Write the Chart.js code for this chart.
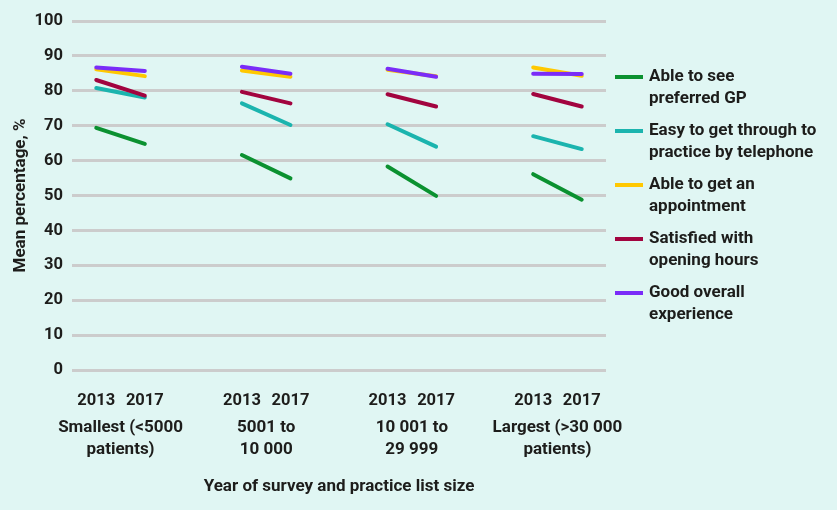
<!DOCTYPE html>
<html>
<head>
<meta charset="utf-8">
<script src="https://cdn.jsdelivr.net/npm/chart.js@4.4.0/dist/chart.umd.min.js"></script>
<style>
  html, body { margin: 0; padding: 0; background: #e0f6f3; }
  #wrap { width: 837px; height: 510px; position: relative; }
</style>
</head>
<body>
<div id="wrap"><canvas id="chartGraph"></canvas></div>
<script>
const ctx = document.getElementById('chartGraph');

// survey years within each practice-size group
const years = ['2013', '2017'];
const groupLabels = [
  ['Smallest (<5000', 'patients)'],
  ['5001 to', '10 000'],
  ['10 001 to', '29 999'],
  ['Largest (>30 000', 'patients)']
];

const seriesNames = [
  ['Able to see', 'preferred GP'],
  ['Easy to get through to', 'practice by telephone'],
  ['Able to get an', 'appointment'],
  ['Satisfied with', 'opening hours'],
  ['Good overall', 'experience']
];
const seriesColors = ['#0b9130', '#1bb4ae', '#ffc800', '#a2043f', '#7a2cf8'];

// [2013, 2017] per group, smallest -> largest
const seeGP       = [[69.4, 64.8], [61.6, 54.9], [58.3, 49.9], [56.1, 48.8]];
const telephone   = [[80.8, 78.1], [76.4, 70.2], [70.4, 64.0], [67.0, 63.3]];
const appointment = [[86.2, 84.2], [85.8, 84.0], [86.0, 84.2], [86.7, 84.3]];
const openHours   = [[83.1, 78.6], [79.7, 76.4], [79.0, 75.5], [79.1, 75.5]];
const overall     = [[86.7, 85.7], [86.9, 84.9], [86.3, 84.0], [84.9, 84.8]];

const seriesValues = [seeGP, telephone, appointment, openHours, overall];

const yTicks = [0, 10, 20, 30, 40, 50, 60, 70, 80, 90, 100];

const FONT = 'Roboto';
const TEXT = '#1d1d1b';

// flatten into category slots with an empty slot between groups
let xLabels = [];
groupLabels.forEach((g, i) => {
  xLabels.push(...years);
  if (i < groupLabels.length - 1) xLabels.push('');
});
const groupCentres = groupLabels.map((g, i) => i * 3 + 0.5);

function flatten(groups) {
  let out = [];
  groups.forEach((pair, i) => {
    out.push(...pair);
    if (i < groups.length - 1) out.push(null);
  });
  return out;
}

const sideLegend = {
  id: 'sideLegend',
  afterDraw(chart) {
    const c = chart.ctx;
    const x0 = chart.chartArea.right + 9;
    c.save();
    c.font = 'bold 17px ' + FONT;
    c.textBaseline = 'middle';
    c.fillStyle = TEXT;
    seriesNames.forEach((name, i) => {
      const y = 77 + i * 54;
      c.strokeStyle = seriesColors[i];
      c.lineWidth = 4;
      c.beginPath();
      c.moveTo(x0, y);
      c.lineTo(x0 + 28, y);
      c.stroke();
      name.forEach((line, j) => {
        c.fillText(line, x0 + 34, y + j * 21.5);
      });
    });
    c.restore();
  }
};

const datasets = seriesValues.map((vals, i) => ({
  label: seriesNames[i].join(' '),
  data: flatten(vals),
  borderColor: seriesColors[i],
  backgroundColor: seriesColors[i],
  borderWidth: 4,
  borderCapStyle: 'round',
  pointRadius: 0,
  spanGaps: false,
  order: seriesValues.length - i
}));

new Chart(ctx, {
  type: 'line',
  data: { labels: xLabels, datasets: datasets },
  plugins: [sideLegend],
  options: {
    responsive: true,
    maintainAspectRatio: false,
    animation: false,
    layout: { padding: { left: 0, right: 231, top: 21, bottom: 0 } },
    plugins: {
      legend: { display: false },
      tooltip: { enabled: false }
    },
    scales: {
      x: {
        type: 'category',
        position: 'bottom',
        offset: true,
        grid: { display: false, drawTicks: false },
        border: { display: false },
        ticks: {
          color: TEXT,
          font: { family: FONT, size: 16.5, weight: 'bold' },
          padding: 21,
          maxRotation: 0,
          autoSkip: false
        },
        afterFit: (scale) => { scale.height = 42; }
      },
      x2: {
        type: 'linear',
        position: 'bottom',
        min: -0.5,
        max: xLabels.length - 0.5,
        grid: { display: false, drawTicks: false },
        border: { display: false },
        afterBuildTicks: (scale) => {
          scale.ticks = groupCentres.map((v) => ({ value: v }));
        },
        ticks: {
          color: TEXT,
          font: { family: FONT, size: 17, weight: 'bold', lineHeight: 1.3 },
          padding: 5,
          maxRotation: 0,
          autoSkip: false,
          callback: (v) => groupLabels[groupCentres.indexOf(v)]
        },
        title: {
          display: true,
          text: 'Year of survey and practice list size',
          color: TEXT,
          font: { family: FONT, size: 17, weight: 'bold' },
          padding: { top: 0, bottom: 13 }
        },
        afterFit: (scale) => { scale.height = 98; }
      },
      y: {
        min: 0,
        max: 100,
        grid: { color: '#cccccc', lineWidth: 3, drawTicks: false },
        border: { display: false },
        afterBuildTicks: (scale) => {
          scale.ticks = yTicks.map((v) => ({ value: v }));
        },
        ticks: {
          color: TEXT,
          font: { family: FONT, size: 16.5, weight: 'bold' },
          padding: 9
        },
        title: {
          display: true,
          text: 'Mean percentage, %',
          color: TEXT,
          font: { family: FONT, size: 17, weight: 'bold' },
          padding: { top: 11, bottom: 0 }
        },
        afterFit: (scale) => { scale.width = 72; }
      }
    }
  }
});
</script>
</body>
</html>
